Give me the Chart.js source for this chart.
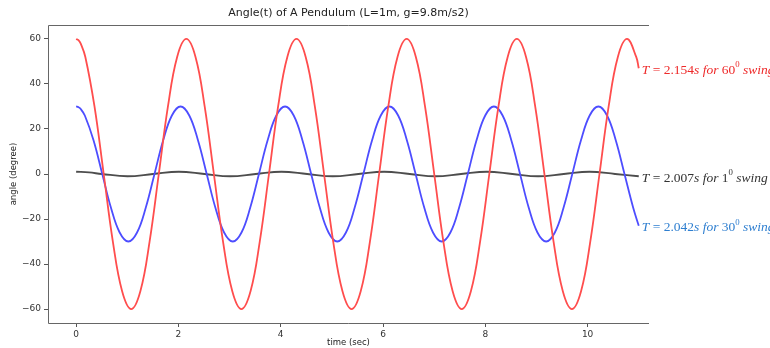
<!DOCTYPE html>
<html>
<head>
<meta charset="utf-8">
<script src="https://cdn.jsdelivr.net/npm/chart.js@4/dist/chart.umd.min.js"></script>
<style>
  html, body { margin: 0; padding: 0; background: #fff; }
</style>
</head>
<body>
<canvas id="grafico" width="770" height="348"></canvas>
<script>
// valores (tempo em s, ângulo em graus)
const tempoVermelho = [
  0, 0.045, 0.090, 0.180, 0.359, 0.539, 0.718, 0.898, 1.077, 1.257, 1.436, 1.616, 1.795, 1.975,
  2.154, 2.334, 2.513, 2.693, 2.872, 3.052, 3.231, 3.411, 3.590, 3.770, 3.949, 4.129,
  4.308, 4.488, 4.667, 4.847, 5.026, 5.206, 5.385, 5.565, 5.744, 5.924, 6.103, 6.283,
  6.462, 6.642, 6.821, 7.001, 7.180, 7.360, 7.539, 7.719, 7.898, 8.078, 8.257, 8.437,
  8.616, 8.796, 8.975, 9.155, 9.334, 9.514, 9.693, 9.873, 10.052, 10.232, 10.411, 10.591,
  10.770, 10.950, 11.0
];
const anguloVermelho = [
  60, 59.5, 57.9, 52, 30, 0, -30, -52, -60, -52, -30, 0, 30, 52,
  60, 52, 30, 0, -30, -52, -60, -52, -30, 0, 30, 52,
  60, 52, 30, 0, -30, -52, -60, -52, -30, 0, 30, 52,
  60, 52, 30, 0, -30, -52, -60, -52, -30, 0, 30, 52,
  60, 52, 30, 0, -30, -52, -60, -52, -30, 0, 30, 52,
  60, 52, 47
];

const tempoAzul = [
  0, 0.043, 0.085, 0.170, 0.340, 0.511, 0.681, 0.851, 1.021, 1.191, 1.361, 1.532, 1.702, 1.872,
  2.042, 2.212, 2.382, 2.553, 2.723, 2.893, 3.063, 3.233, 3.403, 3.574, 3.744, 3.914,
  4.084, 4.254, 4.424, 4.595, 4.765, 4.935, 5.105, 5.275, 5.445, 5.616, 5.786, 5.956,
  6.126, 6.296, 6.466, 6.637, 6.807, 6.977, 7.147, 7.317, 7.487, 7.658, 7.828, 7.998,
  8.168, 8.338, 8.508, 8.679, 8.849, 9.019, 9.189, 9.359, 9.529, 9.700, 9.870, 10.040,
  10.210, 10.380, 10.550, 10.721, 10.891, 11.0
];
const anguloAzul = [
  30, 29.7, 29.0, 26, 15, 0, -15, -26, -30, -26, -15, 0, 15, 26,
  30, 26, 15, 0, -15, -26, -30, -26, -15, 0, 15, 26,
  30, 26, 15, 0, -15, -26, -30, -26, -15, 0, 15, 26,
  30, 26, 15, 0, -15, -26, -30, -26, -15, 0, 15, 26,
  30, 26, 15, 0, -15, -26, -30, -26, -15, 0, 15, 26,
  30, 26, 15, 0, -15, -23
];

const tempoPreto = [
  0, 0.251, 0.502, 1.004, 1.505, 2.007, 2.509, 3.011, 3.512, 4.014, 4.516, 5.018, 5.519,
  6.021, 6.523, 7.025, 7.526, 8.028, 8.530, 9.032, 9.533, 10.035, 10.537, 11.0
];
const anguloPreto = [
  1, 0.7, 0, -1, 0, 1, 0, -1, 0, 1, 0, -1, 0,
  1, 0, -1, 0, 1, 0, -1, 0, 1, 0, -1
];

const rotulos = [
  'T = 2.154s for 60^0 swing',
  'T = 2.042s for 30^0 swing',
  'T = 2.007s for 1^0 swing'
];
const coresLinha = ['rgb(255,77,77)', 'rgb(77,77,255)', 'rgb(77,77,77)'];
const coresRotulo = ['#ee2a2a', '#2f7fd0', '#333333'];

const ticksX = [0, 2, 4, 6, 8, 10];
const ticksY = [-60, -40, -20, 0, 20, 40, 60];

const titulo = 'Angle(t) of A Pendulum (L=1m, g=9.8m/s2)';
const tituloX = 'time (sec)';
const tituloY = 'angle (degree)';

function pares(ts, vs) {
  return ts.map((t, i) => ({ x: t, y: vs[i] }));
}

// texto "matemático": letras em itálico, números retos, ^ = expoente
function textoRico(ctx, texto, x, y, tam) {
  let px = x;
  for (let i = 0; i < texto.length; i++) {
    let c = texto[i];
    let sup = false;
    if (c === '^') { sup = true; i++; c = texto[i]; }
    const italico = /[A-Za-z]/.test(c);
    const t = sup ? tam * 0.65 : tam;
    ctx.font = (italico ? 'italic ' : '') + t + 'px "Liberation Serif"';
    ctx.fillText(c, px, sup ? y - tam * 0.38 : y);
    px += ctx.measureText(c).width;
  }
}

const desenhoExtra = {
  id: 'desenhoExtra',
  afterDraw(chart) {
    const { ctx, chartArea: a, scales } = chart;
    ctx.save();
    // eixos: topo, esquerda, base (sem lado direito)
    ctx.strokeStyle = '#666';
    ctx.lineWidth = 1;
    ctx.beginPath();
    ctx.moveTo(a.right, a.top + 0.5);
    ctx.lineTo(a.left + 0.5, a.top + 0.5);
    ctx.lineTo(a.left + 0.5, a.bottom + 0.5);
    ctx.lineTo(a.right, a.bottom + 0.5);
    ctx.stroke();

    ctx.fillStyle = '#222';
    ctx.textAlign = 'center';
    ctx.textBaseline = 'middle';
    ctx.font = '11px "DejaVu Sans"';
    ctx.fillText(titulo, (a.left + a.right) / 2, 13);
    ctx.font = '8.5px "DejaVu Sans"';
    ctx.fillText(tituloX, (a.left + a.right) / 2, 343);
    ctx.save();
    ctx.translate(14, (a.top + a.bottom) / 2);
    ctx.rotate(-Math.PI / 2);
    ctx.fillText(tituloY, 0, 0);
    ctx.restore();

    // rótulos no fim de cada curva
    ctx.textAlign = 'left';
    chart.data.datasets.forEach((ds, i) => {
      const ultimo = ds.data[ds.data.length - 1];
      const x = scales.x.getPixelForValue(ultimo.x) + 3;
      const y = scales.y.getPixelForValue(ultimo.y);
      ctx.fillStyle = coresRotulo[i];
      textoRico(ctx, rotulos[i], x, y + 2, 13.5);
    });
    ctx.restore();
  }
};

const serie = (ts, vs, i) => ({
  data: pares(ts, vs),
  borderColor: coresLinha[i],
  borderWidth: 1.8,
  pointRadius: 0,
  tension: 0.4,
  fill: false
});

new Chart(document.getElementById('grafico'), {
  type: 'line',
  data: {
    datasets: [
      serie(tempoVermelho, anguloVermelho, 0),
      serie(tempoAzul, anguloAzul, 1),
      serie(tempoPreto, anguloPreto, 2)
    ]
  },
  options: {
    responsive: false,
    animation: false,
    layout: { padding: { left: 0, top: 25, right: 121, bottom: 0 } },
    plugins: { legend: { display: false }, tooltip: { enabled: false } },
    scales: {
      x: {
        type: 'linear',
        min: -0.55,
        max: 11.2,
        afterBuildTicks: s => { s.ticks = ticksX.map(v => ({ value: v })); },
        afterFit: s => { s.height = 25; },
        border: { display: false },
        grid: { drawOnChartArea: false, drawTicks: true, tickLength: 4, color: '#555' },
        ticks: { color: '#333', font: { family: 'DejaVu Sans', size: 9 }, padding: 2, maxRotation: 0 }
      },
      y: {
        min: -66.2,
        max: 66.2,
        afterBuildTicks: s => { s.ticks = ticksY.map(v => ({ value: v })); },
        afterFit: s => { s.width = 48; },
        border: { display: false },
        grid: { drawOnChartArea: false, drawTicks: true, tickLength: 4, color: '#555' },
        ticks: {
          color: '#333',
          font: { family: 'DejaVu Sans', size: 9 },
          padding: 3,
          callback: v => String(v).replace('-', '\u2212')
        }
      }
    }
  },
  plugins: [desenhoExtra]
});
</script>
</body>
</html>
